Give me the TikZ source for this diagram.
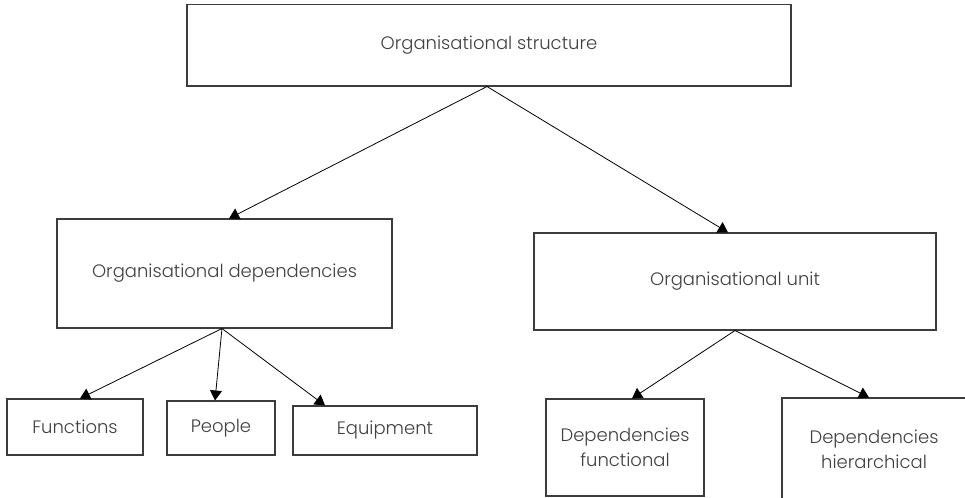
\documentclass[tikz,border=0pt]{standalone}
\usepackage{fontspec}
\setmainfont{Poppins}[UprightFont={* Light}]
\usetikzlibrary{arrows.meta}

\definecolor{boxline}{RGB}{60,60,60}
\definecolor{boxtext}{RGB}{64,64,64}

\tikzset{
  orgbox/.style={draw=boxline, line width=0.8pt, rectangle, align=center,
    text=boxtext, font=\fontsize{13.5}{18.75}\selectfont, inner sep=0pt},
  orgarrow/.style={line width=0.6pt, -{Triangle[width=9pt,length=7.5pt]}}
}

\begin{document}
\begin{tikzpicture}[x=0.75pt,y=0.75pt,yscale=-1]
\clip (0,0) rectangle (965,497);

% Boxes
\node [orgbox, minimum width=453pt, minimum height=61.1pt] (struct) at (489,45.25) {Organisational structure};
\node [orgbox, minimum width=251.25pt, minimum height=81.75pt] (depend) at (224.5,273.5) {Organisational dependencies};
\node [orgbox, minimum width=301.5pt, minimum height=72.75pt] (unit) at (735,281.5) {Organisational unit};
\node [orgbox, minimum width=102pt, minimum height=42pt] (func) at (75,427) {Functions};
\node [orgbox, minimum width=81pt, minimum height=40.5pt] (people) at (221,428) {People};
\node [orgbox, minimum width=138pt, minimum height=36.75pt] (equip) at (385,430.5) {Equipment};
\node [orgbox, minimum width=118.5pt, minimum height=72.75pt] (depfunc) at (625,447.5) {Dependencies\\functional};
\node [orgbox, minimum width=138pt, minimum height=76.5pt] (dephier) at (874,449) {Dependencies\\hierarchical};

% Arrows
\draw [orgarrow] ([xshift=-1.5pt]struct.south) -- ([xshift=3.4pt]depend.north);
\draw [orgarrow] ([xshift=-1.5pt]struct.south) -- ([xshift=-5.25pt]unit.north);
\draw [orgarrow] ([xshift=-1.9pt]depend.south) -- ([xshift=3.75pt]func.north);
\draw [orgarrow] ([xshift=-1.9pt]depend.south) -- ([xshift=-4.5pt]people.north);
\draw [orgarrow] ([xshift=-1.9pt]depend.south) -- ([xshift=-45pt]equip.north);
\draw [orgarrow] (unit.south) -- ([xshift=5.25pt]depfunc.north);
\draw [orgarrow] (unit.south) -- ([xshift=-3.75pt]dephier.north);

\end{tikzpicture}
\end{document}
